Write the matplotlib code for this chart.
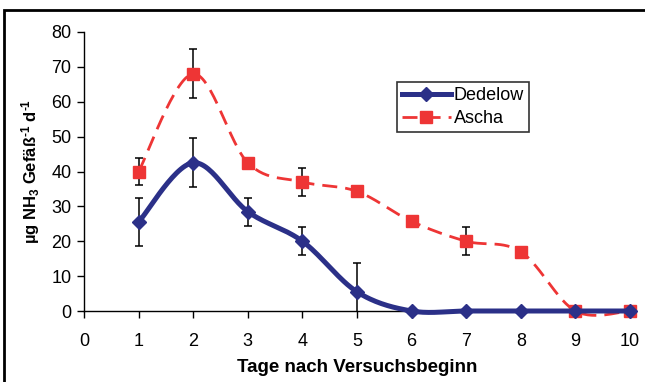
import numpy as np
import matplotlib
matplotlib.use("Agg")
import matplotlib.pyplot as plt
from matplotlib.patches import Rectangle
from matplotlib.lines import Line2D

plt.rcParams['font.family'] = ['Liberation Sans', 'DejaVu Sans']
plt.rcParams['mathtext.fontset'] = 'custom'
plt.rcParams['mathtext.bf'] = 'Liberation Sans:bold'
plt.rcParams['mathtext.rm'] = 'Liberation Sans:bold'
plt.rcParams['mathtext.default'] = 'bf'

days = [1, 2, 3, 4, 5, 6, 7, 8, 9, 10]
dedelow = [25.5, 42.5, 28.5, 20.0, 5.5, 0.0, 0.0, 0.0, 0.0, 0.0]
dedelow_err = [7.0, 7.0, 4.0, 4.0, 8.3, 0, 0, 0, 0, 0]
ascha = [40.0, 68.0, 42.5, 37.0, 34.3, 25.7, 20.0, 17.0, 0.0, 0.0]
ascha_err = [4.0, 7.0, 0, 4.0, 0, 0, 4.0, 0, 0, 0]
xticks = [0, 1, 2, 3, 4, 5, 6, 7, 8, 9, 10]
yticks = [0, 10, 20, 30, 40, 50, 60, 70, 80]

navy = '#2B3088'
red = '#EE3535'


def smooth(x, y, n=30):
    x = np.asarray(x, float)
    y = np.asarray(y, float)
    xs, ys = [x[0]], [y[0]]
    for i in range(len(x) - 1):
        p0 = np.array([x[max(i - 1, 0)], y[max(i - 1, 0)]])
        p1 = np.array([x[i], y[i]])
        p2 = np.array([x[i + 1], y[i + 1]])
        p3 = np.array([x[min(i + 2, len(x) - 1)], y[min(i + 2, len(x) - 1)]])
        c1 = p1 + (p2 - p0) / 6.0
        c2 = p2 - (p3 - p1) / 6.0
        t = np.linspace(0, 1, n)[1:]
        pts = ((1 - t) ** 3)[:, None] * p1 + (3 * (1 - t) ** 2 * t)[:, None] * c1 \
            + (3 * (1 - t) * t ** 2)[:, None] * c2 + (t ** 3)[:, None] * p2
        xs.extend(pts[:, 0])
        ys.extend(pts[:, 1])
    return np.array(xs), np.array(ys)


fig = plt.figure(figsize=(6.45, 3.82), dpi=100)
ax = fig.add_axes([84 / 645, 1 - 311 / 382, 546 / 645, 279 / 382])

for x, y, e in zip(days, dedelow, dedelow_err):
    if e > 0:
        if e <= y:
            ax.errorbar(x, y, yerr=e, fmt='none', ecolor='black', elinewidth=1.1,
                        capsize=3, capthick=1.1, zorder=2, clip_on=False)
        else:
            ax.errorbar(x, y, yerr=[[0], [e]], fmt='none', ecolor='black',
                        elinewidth=1.1, capsize=3, capthick=1.1, zorder=2,
                        clip_on=False)
            ax.vlines(x, 0, y, color='black', lw=1.1, zorder=2)
for x, y, e in zip(days, ascha, ascha_err):
    if e > 0:
        ax.errorbar(x, y, yerr=e, fmt='none', ecolor='black', elinewidth=1.1,
                    capsize=3, capthick=1.1, zorder=2, clip_on=False)

sx, sy = smooth(days, ascha)
ax.plot(sx, sy, color=red, lw=2.0, dashes=(5.4, 2.9), zorder=3, clip_on=False)
ax.plot(days, ascha, linestyle='none', marker='s', markersize=8.5, color=red,
        zorder=4, clip_on=False)

sx, sy = smooth(days, dedelow)
ax.plot(sx, sy, color=navy, lw=3.6, zorder=5, clip_on=False, solid_capstyle='round')
ax.plot(days, dedelow, linestyle='none', marker='D', markersize=7.5, color=navy,
        zorder=6, clip_on=False)

ax.set_xlim(0, 10)
ax.set_ylim(0, 80)
ax.set_xticks(xticks)
ax.set_yticks(yticks)
ax.tick_params(axis='both', labelsize=13, width=1, color='black')
ax.tick_params(axis='y', length=5, pad=4)
ax.tick_params(axis='x', length=5, pad=11)
for s in ['top', 'right']:
    ax.spines[s].set_visible(False)
ax.spines['left'].set_linewidth(1)
ax.spines['bottom'].set_linewidth(1)

ax.set_xlabel('Tage nach Versuchsbeginn', fontsize=13.5, fontweight='bold')
ax.xaxis.set_label_coords((357 - 84) / 546, (311 - 367) / 279)
ax.xaxis.label.set_va('center')
ax.set_ylabel(r'µg NH$_3$ Gefäß$^{\text{-1}}$ d$^{\text{-1}}$', fontsize=12, fontweight='bold')
ax.yaxis.set_label_coords((31 - 84) / 546, (311 - 171) / 279)
ax.yaxis.label.set_va('center')

handles = [
    Line2D([], [], color=navy, lw=3.6, marker='D', markersize=7.5),
    Line2D([], [], color=red, lw=2.0, dashes=(5.4, 2.9), marker='s', markersize=8.5),
]
leg = ax.legend(handles, ['Dedelow', 'Ascha'], loc='upper left',
                bbox_to_anchor=((397 - 84) / 546, (311 - 82) / 279),
                frameon=True, fancybox=False, edgecolor='black', fontsize=13,
                handlelength=2.7, handletextpad=0.15, borderpad=0.28,
                labelspacing=0.35, borderaxespad=0)
leg.get_frame().set_linewidth(1.2)

fig.patches.append(Rectangle((3.5 / 645, -0.05), 1.1, 1 - 10 / 382 + 0.05,
                             transform=fig.transFigure, fill=False,
                             edgecolor='black', linewidth=2))

fig.savefig('out.png', dpi=100)
